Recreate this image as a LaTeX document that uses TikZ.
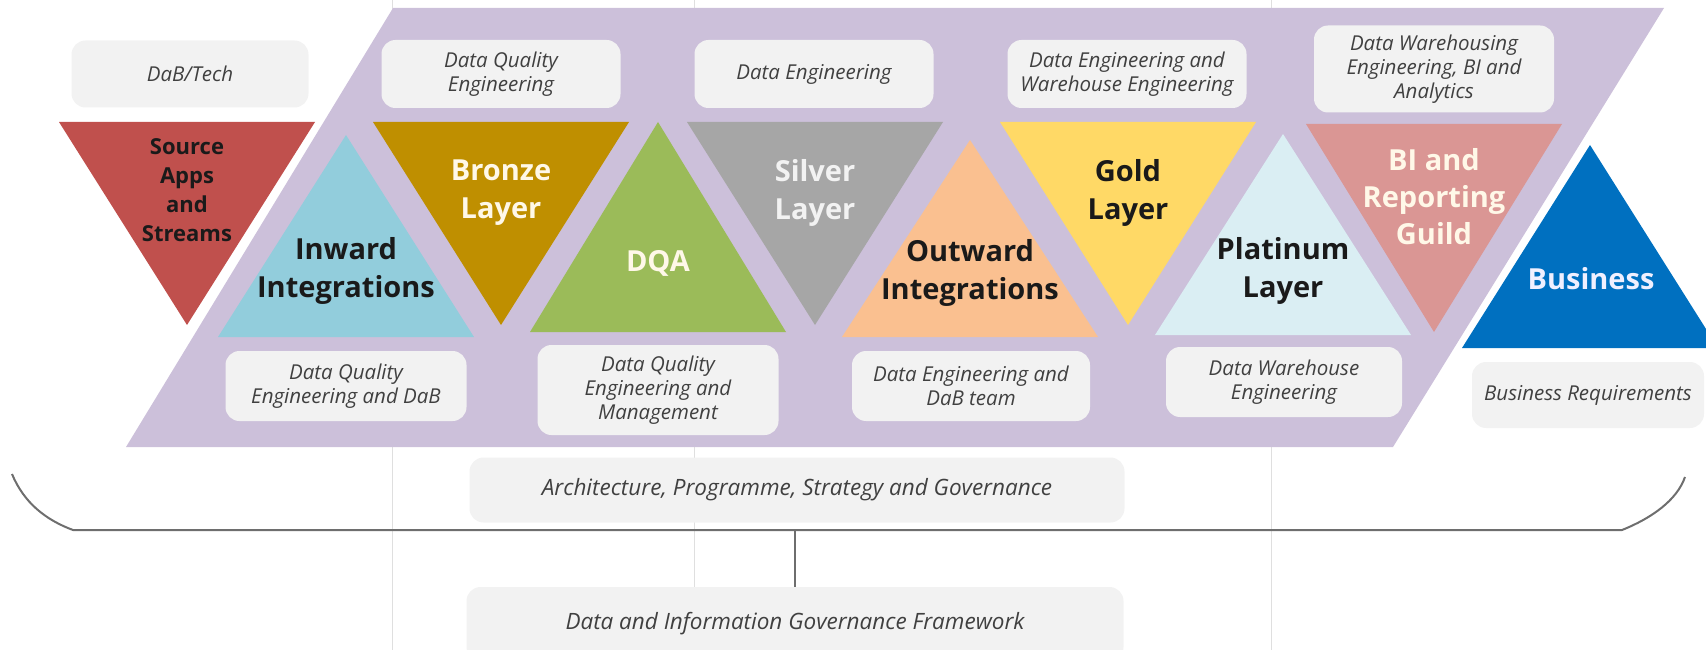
\documentclass[tikz,border=0pt]{standalone}
\usepackage{fontspec}
\setmainfont{Open Sans}
\usepackage{tikz}
\usetikzlibrary{positioning}
\definecolor{lavenderband}{HTML}{CCC0DA}
\definecolor{tagfill}{HTML}{F2F2F2}
\definecolor{taggray}{HTML}{404040}
\definecolor{bracegray}{HTML}{6E6E6E}
\definecolor{sourcered}{HTML}{C0504D}
\definecolor{inwardblue}{HTML}{92CDDC}
\definecolor{bronzebrown}{HTML}{BF8F00}
\definecolor{dqagreen}{HTML}{9BBB59}
\definecolor{silvergray}{HTML}{A6A6A6}
\definecolor{outwardpeach}{HTML}{FAC090}
\definecolor{goldyellow}{HTML}{FFD966}
\definecolor{platinumblue}{HTML}{DAEEF3}
\definecolor{birose}{HTML}{DA9694}
\definecolor{businessblue}{HTML}{0070C0}
\definecolor{inktext}{HTML}{1A1A1A}
\definecolor{creamtext}{HTML}{FFF8E8}

\begin{document}
\begin{tikzpicture}[x=1pt,y=-1pt,
    lbl/.style={font=\fontsize{29}{38}\selectfont\bfseries, align=center, inner sep=0pt, text=inktext},
    tag/.style={fill=tagfill, rounded corners=14pt, text=taggray, align=center, inner sep=0pt,
                font=\fontsize{20.5}{24}\selectfont\itshape},
    govtag/.style={tag, font=\fontsize{22.5}{26}\selectfont\itshape}]
    \useasboundingbox (0,0) rectangle (1706,650);
    \clip (0,0) rectangle (1706,650);

    % faint page grid lines behind everything
    \draw[gray!25, line width=0.6pt] (392,0) -- (392,650);
    \draw[gray!25, line width=0.6pt] (694,0) -- (694,650);
    \draw[gray!25, line width=0.6pt] (1271,0) -- (1271,650);

    % lavender band
    \fill[lavenderband] (393,8) -- (1664,8) -- (1393,447) -- (126,447) -- cycle;

    % downward triangles
    \fill[sourcered]   (59,122) -- (315,122) -- (187,325) -- cycle;
    \fill[bronzebrown] (373,122) -- (629,122) -- (501,325) -- cycle;
    \fill[silvergray]  (687,122) -- (943,122) -- (815,325) -- cycle;
    \fill[goldyellow]  (1000,122) -- (1256,122) -- (1128,325) -- cycle;
    \fill[birose]      (1306,124) -- (1562,124) -- (1434,332) -- cycle;

    % upward triangles
    \fill[inwardblue]   (218,337) -- (474,337) -- (346,135) -- cycle;
    \fill[dqagreen]     (530,332) -- (786,332) -- (658,122) -- cycle;
    \fill[outwardpeach] (842,337) -- (1098,337) -- (970,140) -- cycle;
    \fill[platinumblue] (1155,335) -- (1411,335) -- (1283,134) -- cycle;
    \fill[businessblue] (1462,348) -- (1718,348) -- (1590,145) -- cycle;

    % triangle labels
    \node[lbl, font=\fontsize{22}{29}\selectfont\bfseries] (src) at (187,190) {Source\\Apps\\and\\Streams};
    \node[lbl] (inward) at (346,271) {Inward\\Integrations};
    \node[lbl, text=creamtext] (bronze) at (501,193) {Bronze\\Layer};
    \node[lbl, text=creamtext] (dqa) at (658,263) {DQA};
    \node[lbl, text=white!95!black] (silver) at (815,193) {Silver\\Layer};
    \node[lbl] (outward) at (970,273) {Outward\\Integrations};
    \node[lbl] (gold) at (1128,193) {Gold\\Layer};
    \node[lbl] (platinum) at (1283,271) {Platinum\\Layer};
    \node[lbl, text=creamtext, font=\fontsize{29}{37}\selectfont\bfseries] (bi) at (1434,197) {BI and\\Reporting\\Guild};
    \node[lbl, text=white!94!blue] (business) at (1591,279) {Business};

    % top tags
    \node[tag, minimum width=237pt, minimum height=67pt] (dabtech) at (190,74) {DaB/Tech};
    \node[tag, minimum width=239pt, minimum height=68pt] (dqeng) at (501,74) {Data Quality\\Engineering};
    \node[tag, minimum width=239pt, minimum height=68pt] (deng) at (814,74) {Data Engineering};
    \node[tag, minimum width=239pt, minimum height=68pt] (dewh) at (1127,74) {Data Engineering and\\Warehouse Engineering};
    \node[tag, minimum width=240pt, minimum height=87pt] (dwbi) at (1434,69) {Data Warehousing\\Engineering, BI and\\Analytics};

    % bottom tags
    \node[tag, minimum width=241pt, minimum height=70pt] (dqdab) at (346,386) {Data Quality\\Engineering and DaB};
    \node[tag, minimum width=241pt, minimum height=90pt] (dqmgmt) at (658,390) {Data Quality\\Engineering and\\Management};
    \node[tag, minimum width=238pt, minimum height=70pt] (dedab) at (971,386) {Data Engineering and\\DaB team};
    \node[tag, minimum width=236pt, minimum height=70pt] (dweng) at (1284,382) {Data Warehouse\\Engineering};
    \node[tag, minimum width=232pt, minimum height=66pt] (busreq) at (1588,395) {Business Requirements};

    % governance
    \node[govtag, minimum width=655pt, minimum height=65pt] (arch) at (797,490) {Architecture, Programme, Strategy and Governance};
    \node[govtag, minimum width=657pt, minimum height=74pt] (digf) at (795,624) {Data and Information Governance Framework};

    % bracket under the band
    \coordinate (braceleft) at (12,474);
    \coordinate (braceright) at (1685,477);
    \coordinate (bracemid) at (795,530);
    \draw[bracegray, line width=2pt] (braceleft) .. controls (24,503) and (46,520) .. (73,530)
        -- (1622,530) .. controls (1652,518) and (1677,500) .. (braceright);
    \draw[bracegray, line width=1.8pt] (bracemid) -- (digf.north);
\end{tikzpicture}
\end{document}
